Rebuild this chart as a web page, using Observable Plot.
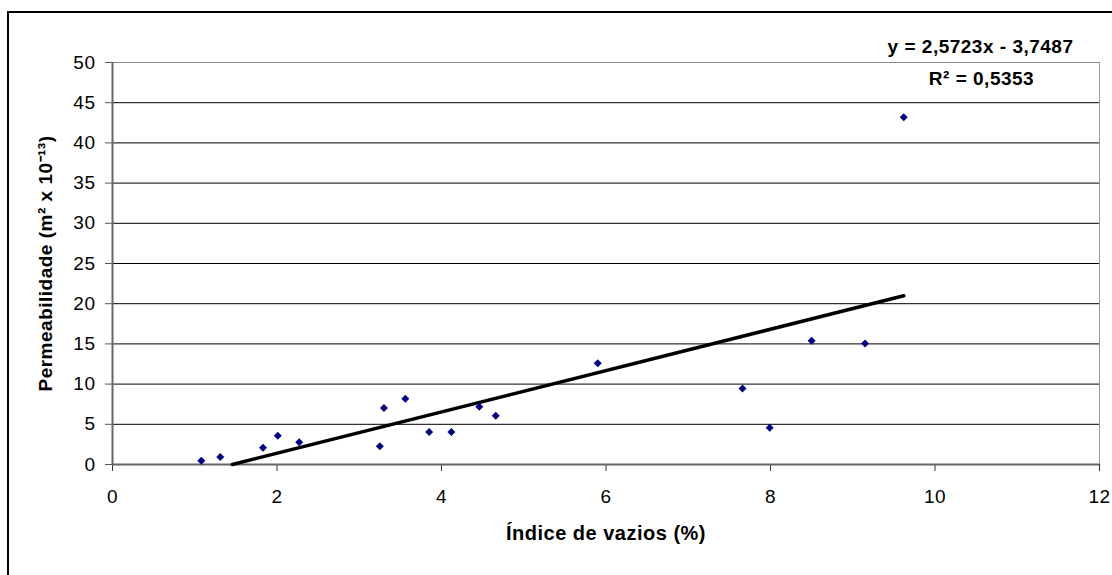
<!DOCTYPE html>
<html>
<head>
<meta charset="utf-8">
<script src="https://cdn.jsdelivr.net/npm/d3@7"></script>
<script src="https://cdn.jsdelivr.net/npm/@observablehq/plot@0.6"></script>
<style>
  html, body { margin: 0; padding: 0; background: #fff; overflow: hidden; }
  #wrap { position: relative; width: 1112px; height: 575px; }
  #frame { position: absolute; left: 7px; top: 11px; width: 1200px; height: 700px;
           border-left: 2px solid #000; border-top: 2px solid #000; pointer-events: none; }
</style>
</head>
<body>
<div id="wrap"><div id="frame"></div></div>
<script>
// Data
const indiceVazios = [1.08, 1.31, 1.83, 2.01, 2.27, 3.25, 3.30, 3.56, 3.85, 4.12, 4.46, 4.66, 5.90, 7.66, 7.99, 8.50, 9.15, 9.62];
const permeabilidade = [0.47, 0.93, 2.09, 3.58, 2.76, 2.26, 7.03, 8.19, 4.04, 4.04, 7.19, 6.07, 12.6, 9.45, 4.56, 15.4, 15.05, 43.2];
const xTicks = [0, 2, 4, 6, 8, 10, 12];
const yTicks = [0, 5, 10, 15, 20, 25, 30, 35, 40, 45, 50];
const slope = 2.5723;
const intercept = -3.7487;
const equationText = "y = 2,5723x - 3,7487";
const r2Text = "R² = 0,5353";
const xLabel = "Índice de vazios (%)";
const yLabel = "Permeabilidade (m² x 10⁻¹³)";

const points = indiceVazios.map((x, i) => ({x, y: permeabilidade[i]}));
const xStart = Math.max(d3.min(indiceVazios), -intercept / slope);
const xEnd = d3.max(indiceVazios);
const trend = [xStart, xEnd].map(x => ({x, y: slope * x + intercept}));

const xMax = d3.max(xTicks), yMax = d3.max(yTicks);

const chart = Plot.plot({
  width: 1112,
  height: 575,
  marginLeft: 112,
  marginRight: 13,
  marginTop: 62,
  marginBottom: 111,
  x: {domain: [0, xMax]},
  y: {domain: [0, yMax]},
  style: {fontFamily: "'Liberation Sans', Arial, sans-serif", fontSize: "19px", color: "#000", background: "transparent", letterSpacing: "0.5px"},
  marks: [
    Plot.gridY(yTicks.filter(v => v > 0 && v < yMax), {stroke: "#000", strokeOpacity: 1, strokeWidth: 1}),
    Plot.ruleY([yMax], {stroke: "#888", strokeWidth: 1}),
    Plot.ruleX([xMax], {stroke: "#999", strokeWidth: 1}),
    Plot.axisY(yTicks, {tickSize: 7, tickPadding: 10, label: null, stroke: "#555", fontSize: 19}),
    Plot.axisX(xTicks, {tickSize: 7, tickPadding: 18, label: null, stroke: "#333", fontSize: 19}),
    Plot.ruleY([0], {stroke: "#666", strokeWidth: 2}),
    Plot.ruleX([0], {stroke: "#666", strokeWidth: 2}),
    Plot.line(trend, {x: "x", y: "y", stroke: "#000", strokeWidth: 3.5}),
    Plot.dot(points, {x: "x", y: "y", symbol: "diamond2", r: 3.6, fill: "#000080", stroke: null}),
    Plot.text([equationText], {frameAnchor: "top-right", textAnchor: "end", lineAnchor: "middle", dx: -26, dy: -16, fontWeight: "bold", fontSize: 19}),
    Plot.text([r2Text], {frameAnchor: "top-right", textAnchor: "middle", lineAnchor: "middle", dx: -118, dy: 16, fontWeight: "bold", fontSize: 19}),
    Plot.text([xLabel], {frameAnchor: "bottom", lineAnchor: "middle", dy: 69, fontWeight: "bold", fontSize: 20}),
    Plot.text([yLabel], {frameAnchor: "left", rotate: -90, lineAnchor: "middle", textAnchor: "middle", dx: -67, fontWeight: "bold", fontSize: 19})
  ]
});
document.getElementById("wrap").prepend(chart);
</script>
</body>
</html>
